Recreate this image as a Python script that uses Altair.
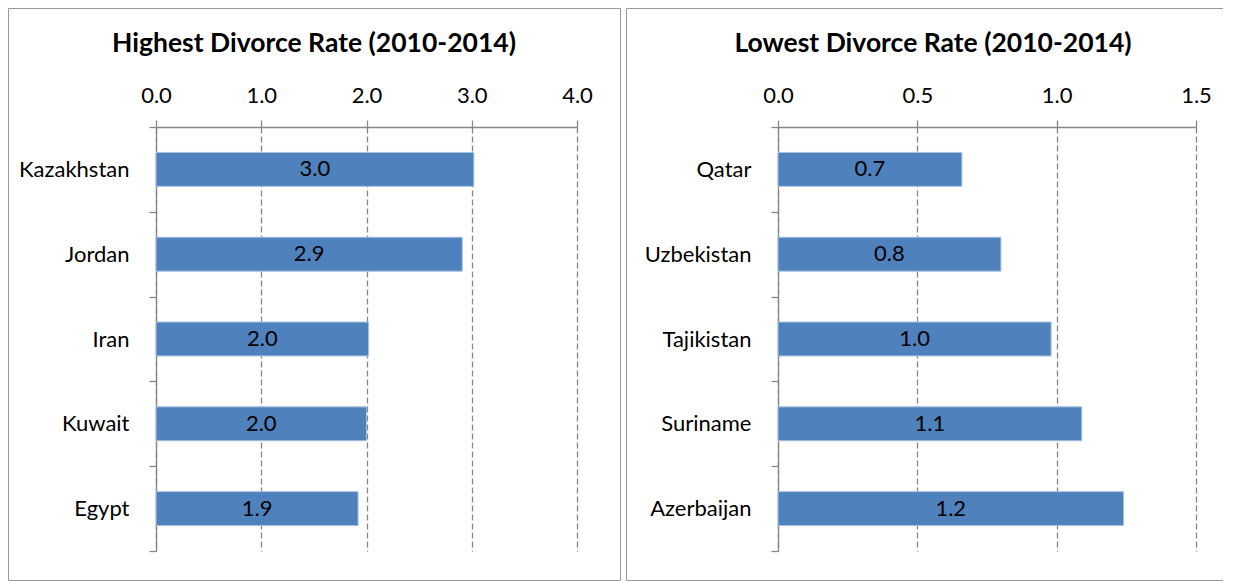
import altair as alt
import pandas as pd

# ---- data ----
high_countries = ["Kazakhstan", "Jordan", "Iran", "Kuwait", "Egypt"]
high_rates = [3.02, 2.91, 2.02, 2.00, 1.92]
high_ticks = [0, 1, 2, 3, 4]
high_title = "Highest Divorce Rate (2010-2014)"

low_countries = ["Qatar", "Uzbekistan", "Tajikistan", "Suriname", "Azerbaijan"]
low_rates = [0.66, 0.80, 0.98, 1.09, 1.24]
low_ticks = [0, 0.5, 1.0, 1.5]
low_title = "Lowest Divorce Rate (2010-2014)"

FONT = "Lato"
BAR = "#4F81BD"
BAR_EDGE = "#A9C2E2"
GRAY = "#868686"
FRAME = "#9a9a9a"
LABEL_SIZE = 22
TITLE_SIZE = 26.5


def panel(countries, rates, ticks, title, width, height, frame, title_x, closed):
    df = pd.DataFrame({"country": countries, "rate": rates})
    base = alt.Chart(df)
    yenc = alt.Y(
        "country:N", sort=countries, title=None,
        scale=alt.Scale(paddingInner=0, paddingOuter=0),
        axis=alt.Axis(
            tickBand="extent", tickSize=7, tickWidth=1.3, tickColor=GRAY,
            domainColor=GRAY, domainWidth=1.3, labelPadding=20,
            labelFont=FONT, labelFontSize=LABEL_SIZE, labelColor="black",
            grid=False,
        ),
    )
    xenc = alt.X(
        "rate:Q", title=None,
        scale=alt.Scale(domain=[ticks[0], ticks[-1]], nice=False, zero=True),
        axis=alt.Axis(
            orient="top", values=ticks, format=".1f", tickSize=7, tickWidth=1.3,
            tickColor=GRAY, domainColor=GRAY, domainWidth=1.3, labelPadding=13,
            labelFlush=False,
            labelFont=FONT, labelFontSize=LABEL_SIZE, labelColor="black",
            grid=True, gridDash=[6, 3], gridColor=GRAY, gridWidth=1.3,
        ),
    )
    bars = base.mark_bar(
        color=BAR, stroke=BAR_EDGE, strokeWidth=1,
        height=alt.RelativeBandSize(0.4),
    ).encode(x=xenc, y=yenc)
    labels = base.transform_calculate(mid="datum.rate / 2").mark_text(
        font=FONT, fontSize=LABEL_SIZE, color="black", baseline="middle"
    ).encode(
        x=alt.X("mid:Q", title=None),
        y=alt.Y("country:N", sort=countries, title=None),
        text=alt.Text("rate:Q", format=".1f"),
    )
    one = alt.Chart(pd.DataFrame({"k": [0]}))
    fx1, fx2, fy1, fy2 = frame
    if closed:
        frames = [one.mark_rect(fill="transparent", stroke=FRAME, strokeWidth=1).encode(
            x=alt.value(fx1), x2=alt.value(fx2), y=alt.value(fy1), y2=alt.value(fy2))]
    else:
        frames = [
            one.mark_rule(color=FRAME, strokeWidth=1).encode(
                x=alt.value(fx1), x2=alt.value(fx2), y=alt.value(fy1)),
            one.mark_rule(color=FRAME, strokeWidth=1).encode(
                x=alt.value(fx1), x2=alt.value(fx2), y=alt.value(fy2)),
            one.mark_rule(color=FRAME, strokeWidth=1).encode(
                x=alt.value(fx1), y=alt.value(fy1), y2=alt.value(fy2)),
        ]
    ttl = one.mark_text(
        text=title, font=FONT, fontSize=TITLE_SIZE, fontWeight="bold",
        color="black", align="center", baseline="middle",
    ).encode(x=alt.value(title_x), y=alt.value(-83))
    return alt.layer(*frames, ttl, bars, labels).properties(width=width, height=height)


left = panel(high_countries, high_rates, high_ticks, high_title, 421, 424,
             (-147.5, 464.5, -118.5, 453.5), 158, True)
right = panel(low_countries, low_rates, low_ticks, low_title, 418, 424,
              (-151.5, 445, -118.5, 453.5), 155, False)

chart = alt.hconcat(left, right, spacing=5).properties(padding=0).configure_view(strokeWidth=0)

chart.save("out.html", embed_options={"renderer": "svg", "actions": False})
